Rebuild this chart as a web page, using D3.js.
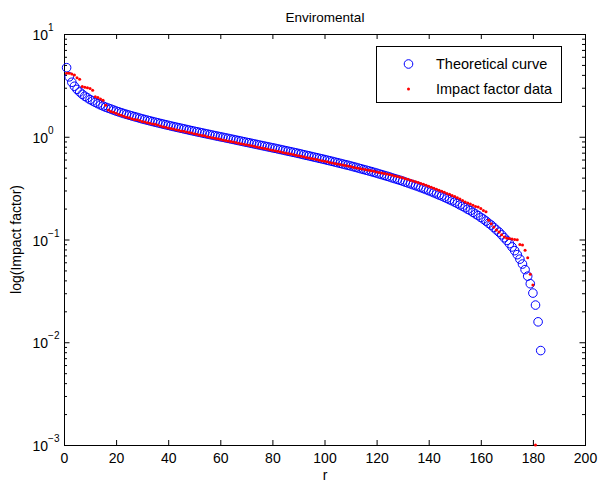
<!DOCTYPE html>
<html><head><meta charset="utf-8">
<script src="https://cdn.jsdelivr.net/npm/d3@7"></script>
<style>
body{margin:0;background:#fff}
svg{display:block}
text{font-family:"Liberation Sans",Arial,Helvetica,sans-serif;fill:#000}
</style>
</head><body>
<svg id="c" width="600" height="483"></svg>
<script>
const title = "Enviromental";
const xLabel = "r";
const yLabel = "log(Impact factor)";
const seriesNames = ["Theoretical curve", "Impact factor data"];
const xTicks = [0,20,40,60,80,100,120,140,160,180,200];
const yDecades = [-3,-2,-1,0,1];

// theoretical curve, rank 1..183
const theoretical = [4.70,3.83,3.39,3.10,2.89,2.73,2.59,2.48,2.39,2.30,
2.23,2.16,2.10,2.04,1.99,1.94,1.90,1.86,1.82,1.78,
1.746,1.713,1.681,1.651,1.623,1.596,1.570,1.545,1.519,1.494,
1.472,1.450,1.428,1.407,1.386,1.367,1.347,1.328,1.310,1.292,
1.274,1.257,1.241,1.225,1.209,1.193,1.178,1.162,1.147,1.133,
1.118,1.105,1.091,1.077,1.064,1.051,1.038,1.025,1.012,1.000,
0.988,0.976,0.964,0.952,0.941,0.929,0.918,0.907,0.895,0.884,
0.874,0.863,0.852,0.842,0.831,0.821,0.811,0.801,0.791,0.781,
0.772,0.762,0.752,0.743,0.733,0.724,0.715,0.706,0.697,0.688,
0.679,0.669,0.660,0.652,0.643,0.634,0.626,0.617,0.609,0.601,
0.592,0.584,0.576,0.567,0.559,0.551,0.543,0.535,0.528,0.520,
0.512,0.504,0.496,0.488,0.480,0.473,0.465,0.458,0.450,0.443,
0.435,0.428,0.420,0.413,0.406,0.398,0.391,0.384,0.377,0.370,
0.362,0.355,0.348,0.341,0.334,0.327,0.320,0.313,0.306,0.299,
0.292,0.285,0.278,0.271,0.265,0.258,0.251,0.244,0.238,0.231,
0.224,0.217,0.211,0.204,0.197,0.191,0.184,0.177,0.171,0.164,
0.158,0.151,0.144,0.138,0.131,0.124,0.118,0.111,0.104,0.0979,
0.0912,0.0846,0.0779,0.0712,0.0644,0.0577,0.0509,0.0440,0.0371,0.0301,
0.0230,0.0158,0.0083];

// impact factor data, rank 1..181
const impactData = [4.15,4.15,4.08,3.98,3.75,3.62,3.08,3.03,3.00,2.95,
2.84,2.45,2.41,2.33,2.27,2.03,1.82,1.76,1.73,1.69,
1.65,1.62,1.58,1.55,1.53,1.50,1.47,1.46,1.44,1.41,
1.39,1.37,1.35,1.33,1.32,1.30,1.27,1.25,1.24,1.22,
1.20,1.19,1.17,1.16,1.14,1.13,1.11,1.10,1.09,1.07,
1.06,1.04,1.03,1.02,1.00,0.990,0.978,0.965,0.955,0.944,
0.932,0.921,0.910,0.899,0.888,0.877,0.866,0.857,0.846,0.835,
0.826,0.816,0.806,0.796,0.786,0.777,0.767,0.758,0.749,0.740,
0.731,0.722,0.713,0.704,0.696,0.687,0.679,0.671,0.662,0.654,
0.646,0.637,0.629,0.622,0.614,0.606,0.599,0.591,0.584,0.577,
0.570,0.563,0.556,0.549,0.543,0.536,0.530,0.524,0.518,0.512,
0.506,0.500,0.494,0.488,0.482,0.477,0.471,0.466,0.461,0.455,
0.449,0.444,0.438,0.433,0.428,0.422,0.416,0.410,0.404,0.398,
0.391,0.385,0.378,0.372,0.365,0.358,0.351,0.344,0.337,0.330,
0.323,0.315,0.309,0.302,0.295,0.288,0.281,0.275,0.268,0.262,
0.255,0.248,0.240,0.232,0.226,0.222,0.216,0.210,0.207,0.200,
0.192,0.186,0.154,0.142,0.132,0.124,0.118,0.111,0.106,0.103,
0.102,0.101,0.100,0.0995,0.0895,0.0885,0.0785,0.0665,0.046,0.036,
0.001];

const svg = d3.select("#c");
const L = 64, R = 585, T = 34, B = 445;
const x = d3.scaleLinear().domain([0,200]).range([L,R]);
const y = d3.scaleLog().domain([1e-3,10]).range([B,T]);

const majorY = yDecades.map(e => Math.pow(10,e));
const minorY = [];
yDecades.slice(0,-1).forEach(e => { for (let k=2;k<=9;k++) minorY.push(k*Math.pow(10,e)); });

function styleAxis(g){ g.select(".domain").remove(); g.selectAll("line").attr("stroke","#000"); g.selectAll("text").remove(); }

// ticks (inward)
svg.append("g").attr("transform",`translate(0,${B})`).call(d3.axisBottom(x).tickValues(xTicks).tickSizeInner(-5).tickSizeOuter(0)).call(styleAxis);
svg.append("g").attr("transform",`translate(0,${T})`).call(d3.axisTop(x).tickValues(xTicks).tickSizeInner(-5).tickSizeOuter(0)).call(styleAxis);
svg.append("g").attr("transform",`translate(${L},0)`).call(d3.axisLeft(y).tickValues(majorY).tickSizeInner(-5.5).tickSizeOuter(0)).call(styleAxis);
svg.append("g").attr("transform",`translate(${L},0)`).call(d3.axisLeft(y).tickValues(minorY).tickSizeInner(-3).tickSizeOuter(0)).call(styleAxis);
svg.append("g").attr("transform",`translate(${R},0)`).call(d3.axisRight(y).tickValues(majorY).tickSizeInner(-5.5).tickSizeOuter(0)).call(styleAxis);
svg.append("g").attr("transform",`translate(${R},0)`).call(d3.axisRight(y).tickValues(minorY).tickSizeInner(-3).tickSizeOuter(0)).call(styleAxis);

// box
svg.append("rect").attr("x",L+0.5).attr("y",T+0.5).attr("width",R-L).attr("height",B-T)
  .attr("fill","none").attr("stroke","#000").attr("stroke-width",1);

// x tick labels
svg.append("g").selectAll("text").data(xTicks).join("text")
  .attr("x",d=>x(d)+0.5).attr("y",463).attr("text-anchor","middle").attr("font-size",14).text(d=>d);

// y tick labels 10^e
const yl = svg.append("g").selectAll("text").data(yDecades).join("text")
  .attr("x",32.5).attr("y",d=>y(Math.pow(10,d))+6).attr("font-size",14);
yl.append("tspan").text("10");
yl.append("tspan").attr("dy",-9).attr("font-size",10).text(d=> d<0 ? "\u2212"+(-d) : String(d));

// title and labels
svg.append("text").attr("x",(L+R)/2+0.5).attr("y",22).attr("text-anchor","middle").attr("font-size",13.5).text(title);
svg.append("text").attr("x",(L+R)/2+0.5).attr("y",479.5).attr("text-anchor","middle").attr("font-size",14).text(xLabel);
svg.append("text").attr("transform",`translate(21,${(T+B)/2}) rotate(-90)`).attr("text-anchor","middle").attr("font-size",14).text(yLabel);

// marks
svg.append("g").selectAll("circle").data(theoretical).join("circle")
  .attr("cx",(d,i)=>x(i+1)).attr("cy",d=>y(d)).attr("r",4.3)
  .attr("fill","none").attr("stroke","#0000ff").attr("stroke-width",1);
svg.append("g").selectAll("circle").data(impactData).join("circle")
  .attr("cx",(d,i)=>x(i+1)).attr("cy",d=>y(d)).attr("r",1.5)
  .attr("fill","#ff0000");

// legend
const lg = svg.append("g");
lg.append("rect").attr("x",376.5).attr("y",46.5).attr("width",185).attr("height",56)
  .attr("fill","#fff").attr("stroke","#000").attr("stroke-width",1);
lg.append("circle").attr("cx",408.5).attr("cy",64).attr("r",4.3).attr("fill","none").attr("stroke","#0000ff");
lg.append("circle").attr("cx",408.5).attr("cy",89).attr("r",1.5).attr("fill","#ff0000");
lg.append("text").attr("x",436).attr("y",69).attr("font-size",14.5).text(seriesNames[0]);
lg.append("text").attr("x",436).attr("y",94).attr("font-size",14.5).text(seriesNames[1]);
</script>
</body></html>
